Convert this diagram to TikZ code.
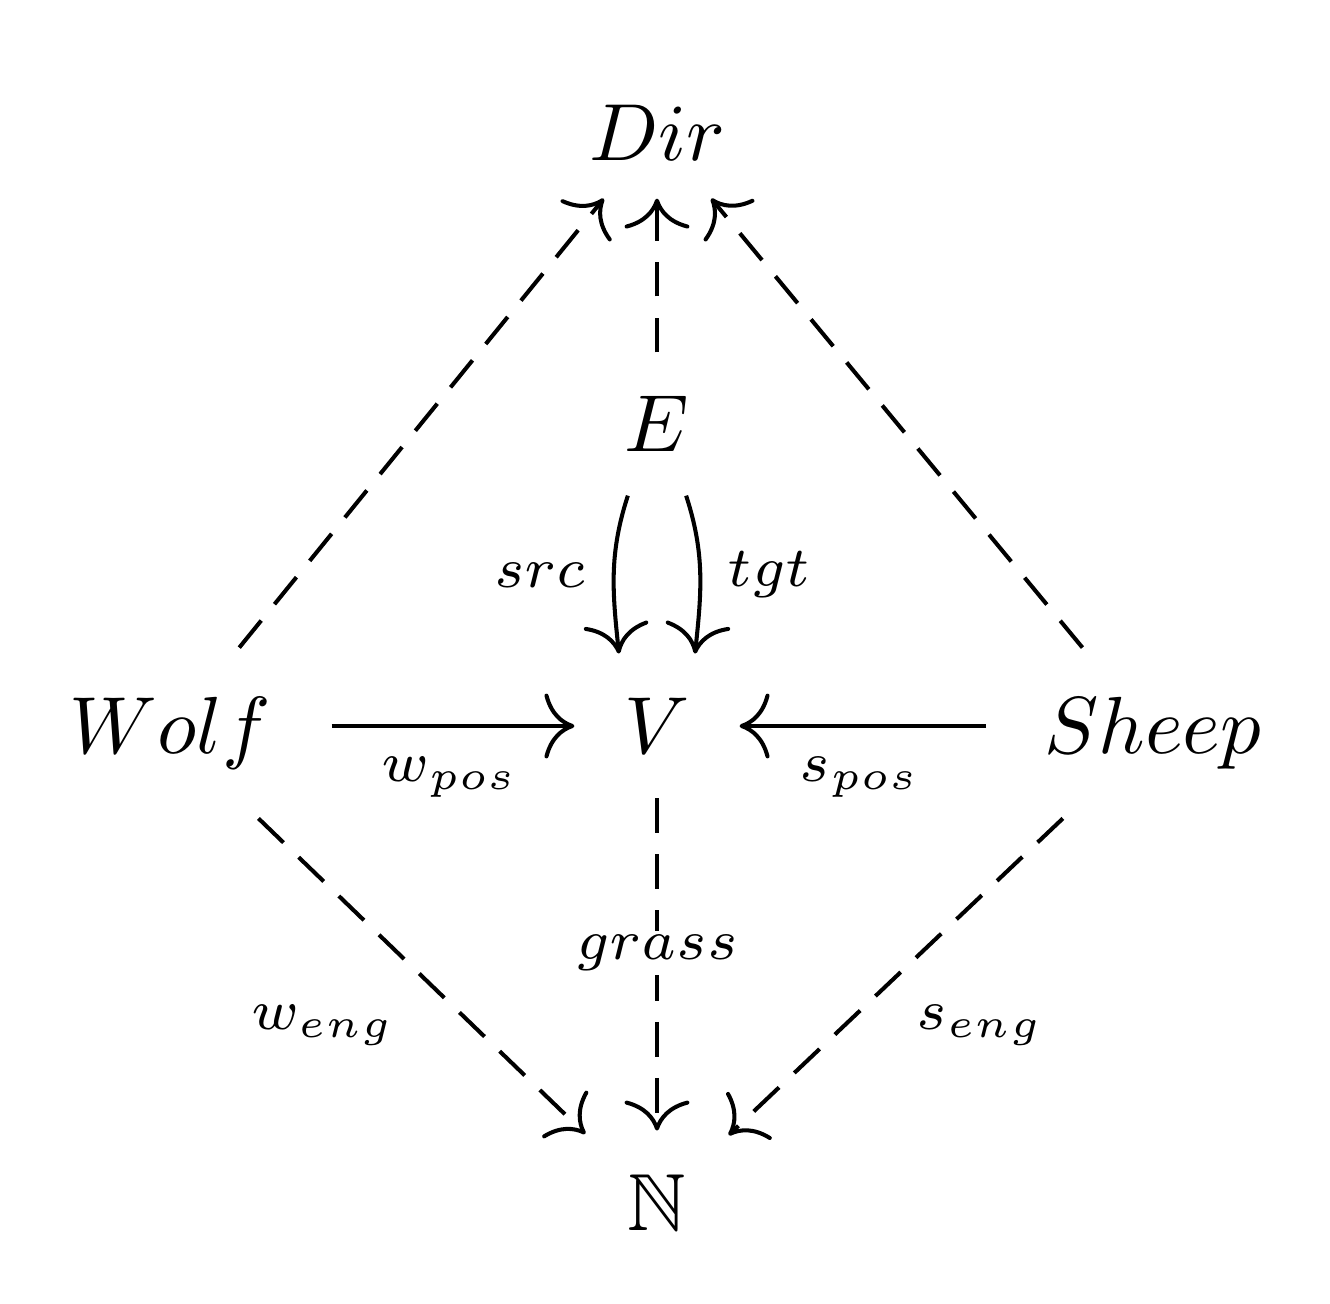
\documentclass[tikz,border=0pt]{standalone}
\usepackage{amssymb}
\usetikzlibrary{arrows.meta}
\begin{document}
\begin{tikzpicture}[x=0.1235pt,y=-0.1235pt,
  obj/.style={rectangle,inner sep=0pt,minimum height=17.3pt},
  lbl/.style={inner sep=0.5pt,execute at begin node=$\scriptstyle,execute at end node=$},
  arr/.style={line width=0.5pt,-{Computer Modern Rightarrow[length=3.7pt,width=8pt]}},
  dsh/.style={arr,dash pattern=on 4.3pt off 2.6pt}]
\useasboundingbox (0,0) rectangle (1330,1304);
\node[obj,minimum width=17.3pt,minimum height=15.8pt] (Dir) at (657,133) {$Dir$};
\node[obj,minimum width=14.8pt] (E) at (657,424) {$E$};
\node[obj,minimum width=20pt,minimum height=17.5pt] (V) at (657,726) {$V$};
\node[obj,minimum width=39.5pt,minimum height=20.7pt] (Wolf) at (170,733) {$Wolf$};
\node[obj,minimum width=40.8pt,minimum height=20.7pt] (Sheep) at (1153,733) {$Sheep$};
\node[obj,minimum width=17.3pt,minimum height=17.5pt] (N) at (657,1203) {$\mathbb{N}$};
% connectors
\draw[dsh] (Wolf) -- (Dir);
\draw[dsh] (E) -- (Dir);
\draw[dsh] (Sheep) -- (Dir);
\draw[arr] ([xshift=-3.6pt]E.south) to[out=-108,in=96] ([xshift=-4.7pt]V.north);
\draw[arr] ([xshift=3.6pt]E.south) to[out=-72,in=84] ([xshift=4.7pt]V.north);
\draw[arr] (Wolf.east |- V.west) -- (V.west);
\draw[arr] (Sheep.west |- V.east) -- (V.east);
\draw[dsh] (Wolf) -- (N);
\draw[dsh] (V) -- (N);
\draw[dsh] (Sheep) -- (N);
% labels
\node[lbl] (lsrc) at (540,575) {src};
\node[lbl] (ltgt) at (769,575) {tgt};
\node[lbl] (lwpos) at (450,777) {w_{pos}};
\node[lbl] (lspos) at (860,777) {s_{pos}};
\node[lbl,fill=white] (lgrass) at (657,953) {grass};
\node[lbl] (lweng) at (323,1025) {w_{eng}};
\node[lbl] (lseng) at (980,1025) {s_{eng}};
\end{tikzpicture}
\end{document}
